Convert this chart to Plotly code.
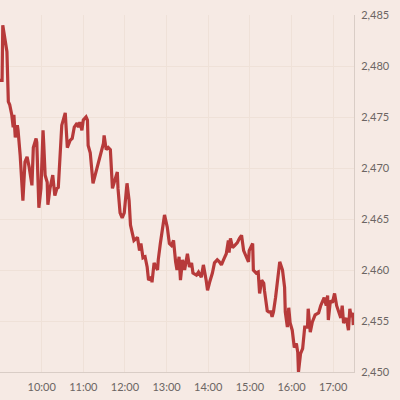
import plotly.graph_objects as go

minutes = [0, 3, 4, 7, 10, 12, 14, 17, 19, 20, 22, 25, 26, 29, 32, 33, 36, 39, 42, 46, 48, 52, 53, 56, 59,
           62, 63, 65, 68, 69, 72, 75, 76, 79, 82, 84, 87, 89, 94, 97, 101, 104, 107, 111, 113, 115, 118,
           120, 124, 126, 127, 130, 134, 137, 141, 144, 147, 149, 150, 153, 156, 159, 162, 165, 169, 170,
           173, 176, 179, 183, 186, 188, 190, 193, 198, 201, 203, 206, 209, 212, 214, 218, 219, 222, 227,
           228, 231, 234, 237, 241, 244, 247, 250, 253, 255, 258, 260, 263, 266, 270, 273, 276, 278, 283,
           286, 290, 293, 297, 299, 302, 306, 309, 313, 316, 319, 322, 326, 329, 330, 332, 335, 338, 342,
           345, 348, 351, 355, 358, 359, 364, 365, 369, 372, 374, 377, 380, 381, 385, 387, 390, 392, 394,
           397, 400, 403, 407, 410, 411, 414, 416, 418, 421, 424, 427, 429, 430, 433, 436, 439, 443, 444,
           447, 450, 454, 459, 462, 465, 467, 470, 472, 473, 476, 479, 482, 485, 488, 491, 493, 495, 499,
           502, 504, 506, 508, 509]
values = [2478.6, 2478.6, 2484.0, 2482.4, 2481.4, 2476.5, 2476.2, 2475.2, 2474.0, 2475.2, 2473.0, 2474.2,
          2473.7, 2471.3, 2467.3, 2466.8, 2470.6, 2471.1, 2470.1, 2468.3, 2472.0, 2472.9, 2472.5, 2466.1,
          2468.0, 2473.7, 2472.4, 2469.3, 2468.6, 2466.4, 2468.0, 2469.1, 2469.3, 2467.3, 2468.0, 2468.1,
          2471.8, 2474.2, 2475.4, 2472.0, 2472.7, 2472.9, 2474.0, 2474.4, 2474.0, 2474.5, 2473.7, 2474.7,
          2475.0, 2474.7, 2472.2, 2471.5, 2468.5, 2469.3, 2470.3, 2471.1, 2472.0, 2472.4, 2473.2, 2471.8,
          2472.0, 2471.8, 2468.0, 2468.8, 2469.6, 2468.0, 2465.6, 2465.1, 2465.6, 2468.5, 2466.8, 2464.4,
          2463.9, 2462.9, 2463.2, 2461.9, 2462.6, 2461.2, 2461.3, 2460.3, 2459.0, 2459.3, 2458.8, 2460.7,
          2460.0, 2461.0, 2462.6, 2464.2, 2465.4, 2464.2, 2462.6, 2462.4, 2462.9, 2460.8, 2460.0, 2461.3,
          2459.0, 2461.0, 2460.0, 2461.6, 2460.3, 2460.7, 2459.7, 2459.5, 2459.8, 2459.3, 2460.5, 2459.0,
          2458.0, 2458.8, 2459.7, 2460.7, 2461.0, 2460.8, 2460.5, 2461.0, 2461.6, 2462.9, 2461.7, 2463.1,
          2462.2, 2462.4, 2462.7, 2463.1, 2463.4, 2461.9, 2461.3, 2460.8, 2461.9, 2462.6, 2460.0, 2459.7,
          2459.8, 2457.7, 2459.0, 2458.7, 2458.0, 2456.0, 2455.9, 2455.9, 2455.4, 2455.9, 2457.3, 2459.3,
          2460.8, 2460.0, 2458.3, 2455.9, 2454.4, 2456.3, 2454.8, 2454.1, 2452.4, 2452.8, 2451.9, 2450.0,
          2451.8, 2452.3, 2454.4, 2454.4, 2456.2, 2453.9, 2454.9, 2455.6, 2455.8, 2456.5, 2457.0, 2457.3,
          2456.5, 2457.5, 2455.1, 2457.0, 2456.8, 2457.7, 2456.5, 2455.8, 2455.3, 2456.5, 2454.8, 2455.3,
          2454.1, 2456.2, 2455.4, 2455.8, 2454.6]

tick_hours = [10, 11, 12, 13, 14, 15, 16, 17]
tick_labels = ["10:00", "11:00", "12:00", "13:00", "14:00", "15:00", "16:00", "17:00"]
y_ticks = [2450, 2455, 2460, 2465, 2470, 2475, 2480, 2485]
y_labels = ["2,450", "2,455", "2,460", "2,465", "2,470", "2,475", "2,480", "2,485"]


def stamp(m):
    total = 9 * 60 + m
    return "2024-01-02 %02d:%02d" % (total // 60, total % 60)


times = [stamp(m) for m in minutes]
tick_vals = ["2024-01-02 %02d:00" % h for h in tick_hours]

fig = go.Figure(go.Scatter(x=times, y=values, mode="lines",
                           line=dict(color="#b73a3a", width=3.2), hoverinfo="skip"))

bg = "#f6eae4"
fig.update_layout(
    width=400, height=400,
    paper_bgcolor=bg, plot_bgcolor=bg,
    margin=dict(l=0, r=46, t=15, b=28),
    showlegend=False,
    font=dict(family="Lato, sans-serif", size=11, color="#6b6563"),
)
fig.update_xaxes(
    range=["2024-01-02 09:00", "2024-01-02 17:30"],
    tickvals=tick_vals, ticktext=tick_labels,
    showgrid=True, gridcolor="#efe1d8", gridwidth=1,
    showline=True, linecolor="#d9cdc6", linewidth=1,
    ticks="outside", ticklen=5, tickcolor="rgba(0,0,0,0)",
    zeroline=False,
)
fig.update_yaxes(
    side="right", range=[2450, 2485],
    tickvals=y_ticks, ticktext=y_labels,
    showgrid=True, gridcolor="#efe1d8", gridwidth=1,
    showline=True, linecolor="#d9cdc6", linewidth=1,
    ticks="outside", ticklen=4, tickcolor="rgba(0,0,0,0)",
    zeroline=False,
)

fig.write_html(
    "out.html",
    config={"displayModeBar": False},
    post_script="document.body.style.margin='0';document.body.style.overflow='hidden';",
)
